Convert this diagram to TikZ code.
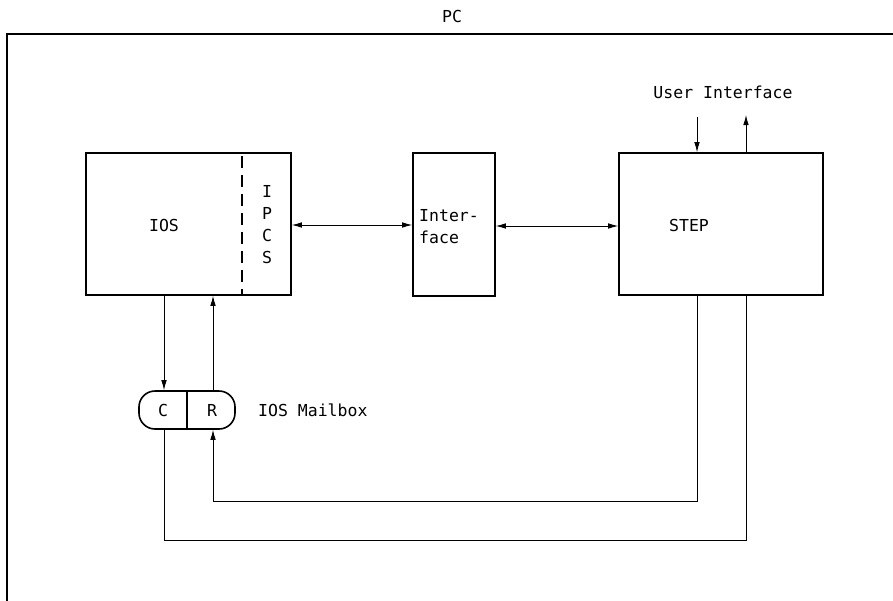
\documentclass[tikz,border=0pt]{standalone}
\usepackage{fontspec}
\newfontfamily\dinfont{DejaVu Sans Mono}
\usetikzlibrary{arrows.meta}
\begin{document}
\begin{tikzpicture}[x=1pt,y=-1pt,
  txt/.style={font=\dinfont\fontsize{16.5}{22}\selectfont, inner sep=0pt},
  blk/.style={draw, line width=1.6pt, inner sep=0pt},
  frm/.style={draw, line width=2.2pt},
  conn/.style={line width=0.8pt},
  arr/.style={conn, -{Latex[length=10pt,width=5.5pt]}},
  darr/.style={conn, {Latex[length=10pt,width=5.5pt]}-{Latex[length=10pt,width=5.5pt]}}
]
\useasboundingbox (0,0) rectangle (893,600);
% outer frame
\coordinate (fbl) at (7,620);
\coordinate (ftl) at (7,34);
\coordinate (ftr) at (910,34);
\draw[frm] (fbl) -- (ftl) -- (ftr);
\node[txt] (pc) at (452,16) {PC};

% blocks
\node[blk, minimum width=205pt, minimum height=142pt] (ios) at (188.5,224) {};
\node[blk, minimum width=82pt, minimum height=143pt] (iface) at (454,224.5) {};
\node[blk, minimum width=204pt, minimum height=142pt] (step) at (721,224) {};

% IOS labels
\node[txt] (ioslbl) at (164,225) {IOS};
\coordinate (dtop) at (242,153);
\coordinate (dbot) at (242,295);
\draw[line width=1.6pt, dash pattern=on 12pt off 7pt, dash phase=-3pt] (dtop) -- (dbot);
\node[txt, align=center] (ipcs) at (267,225) {I\\P\\C\\S};

% Interface label
\node[txt, align=left, anchor=west] (ifacelbl) at (419,227) {Inter-\\face};

% STEP label
\node[txt] (steplbl) at (689,225) {STEP};

% User interface
\node[txt] (uilbl) at (723,92) {User Interface};
\coordinate (uiin) at (697,117);
\coordinate (uiout) at (746,115);
\draw[arr] (uiin) -- (uiin |- step.north);
\draw[arr] (uiout |- step.north) -- (uiout);

% horizontal links
\draw[darr] (ios.east |- 0,225) -- (iface.west |- 0,225);
\draw[darr] (iface.east |- 0,226) -- (step.west |- 0,226);

% mailbox
\node[draw, line width=1.6pt, rounded corners=16pt, minimum width=96pt, minimum height=38pt, inner sep=0pt] (mb) at (187,410) {};
\draw[line width=1.6pt] (mb.north) -- (mb.south);
\node[txt] (clbl) at (163,410) {C};
\node[txt] (rlbl) at (212,410) {R};
\node[txt, anchor=west] (mblbl) at (258,410) {IOS Mailbox};

\coordinate (cx) at (164,0);
\coordinate (rx) at (213,0);
\draw[arr] (ios.south -| cx) -- (mb.north -| cx);
\draw[arr] (mb.north -| rx) -- (ios.south -| rx);

% return paths
\coordinate (p1) at (697,501);
\coordinate (p2) at (746,540);
\draw[arr] (step.south -| p1) -- (p1) -- (p1 -| rx) -- (mb.south -| rx);
\draw[conn] (mb.south -| cx) -- (cx |- p2) -- (p2) -- (step.south -| p2);
\end{tikzpicture}
\end{document}
